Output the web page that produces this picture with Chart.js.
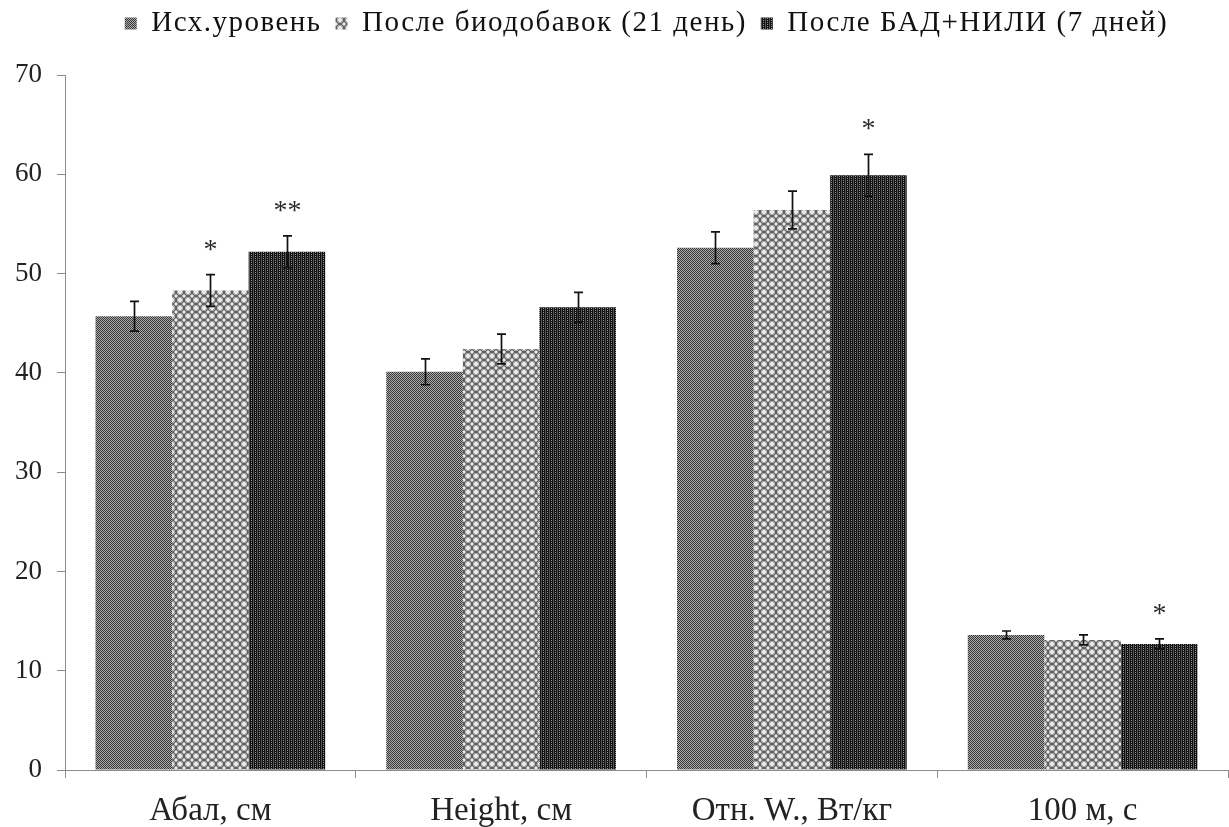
<!DOCTYPE html>
<html>
<head>
<meta charset="utf-8">
<script src="https://cdn.jsdelivr.net/npm/chart.js@4/dist/chart.umd.min.js"></script>
<style>
  html, body { margin: 0; padding: 0; background: #fff; }
  #wrap { width: 1229px; height: 827px; }
</style>
</head>
<body>
<div id="wrap"><canvas id="chart" width="1229" height="827"></canvas></div>
<script>
// Indicators measured before and after the course
const categories = ['Абал, см', 'Height, см', 'Отн. W., Вт/кг', '100 м, с'];
const seriesNames = ['Исх.уровень', 'После биодобавок (21 день)', 'После БАД+НИЛИ (7 дней)'];

// Mean values per indicator
const baselineValues    = [45.7, 40.1, 52.6, 13.6];
const supplementValues  = [48.3, 42.4, 56.4, 13.1];
const combinedValues    = [52.2, 46.6, 59.9, 12.7];

// Standard errors (±)
const baselineErrors    = [1.5, 1.3, 1.6, 0.4];
const supplementErrors  = [1.6, 1.5, 1.9, 0.5];
const combinedErrors    = [1.6, 1.5, 2.1, 0.5];

// Significance marks above the bars
const baselineMarks     = ['', '', '', ''];
const supplementMarks   = ['*', '', '', ''];
const combinedMarks     = ['**', '', '*', '*'];

// Y axis range
const yMin = 0, yMax = 70, yStep = 10;

const FONT = '"Liberation Serif", "Times New Roman", serif';
const LEGEND_SPACING = '1.5px';
const ctx = document.getElementById('chart').getContext('2d');

// Build a repeating fill from a small character map
function tilePattern(rows, palette) {
  const h = rows.length, w = rows[0].length;
  const c = document.createElement('canvas');
  c.width = w; c.height = h;
  const g = c.getContext('2d');
  for (let y = 0; y < h; y++) {
    for (let x = 0; x < w; x++) {
      g.fillStyle = palette[rows[y][x]];
      g.fillRect(x, y, 1, 1);
    }
  }
  return ctx.createPattern(c, 'repeat');
}

// Fine mid-grey checker
const fillBaseline = tilePattern(
  ['#.', '.#'],
  { '#': '#383838', '.': '#ababab' }
);
// Grey with small rings and crosses
const fillSupplement = tilePattern(
  [
    '+.gggg.+',
    '.g....g.',
    'g..++..g',
    'g.++++.g',
    'g.++++.g',
    'g..++..g',
    '.g....g.',
    '+.gggg.+'
  ],
  { '.': '#adadad', 'g': '#606060', '+': '#eaeaea' }
);
// Dark with vertical stripes
const fillCombined = tilePattern(
  ['#d#.', '#d##', '#d#.', '#d##'],
  { '#': '#111111', 'd': '#555555', '.': '#9a9a9a' }
);

// Error bars and significance marks drawn on top of the bars
const errorBars = {
  id: 'errorBars',
  afterDatasetsDraw(chart) {
    const c = chart.ctx;
    const y = chart.scales.y;
    chart.data.datasets.forEach((ds, i) => {
      const meta = chart.getDatasetMeta(i);
      meta.data.forEach((bar, j) => {
        const v = ds.data[j], e = ds.errors[j];
        const yt = y.getPixelForValue(v + e);
        const yb = y.getPixelForValue(v - e);
        const x = Math.round(bar.x) + 0.5;
        c.save();
        c.strokeStyle = '#111';
        c.lineWidth = 1.7;
        c.beginPath();
        c.moveTo(x, yt); c.lineTo(x, yb);
        c.moveTo(x - 4.5, yt); c.lineTo(x + 4.5, yt);
        c.moveTo(x - 4.5, yb); c.lineTo(x + 4.5, yb);
        c.stroke();
        const m = ds.marks[j];
        if (m) {
          c.font = '28px ' + FONT;
          c.fillStyle = '#2a2a2a';
          c.textAlign = 'center';
          c.textBaseline = 'alphabetic';
          c.fillText(m, x, yt - 17);
        }
        c.restore();
      });
    });
  }
};

// Legend: fixed block height and slightly widened lettering
const legendTweaks = {
  id: 'legendTweaks',
  beforeInit(chart) {
    const legend = chart.legend;
    const fit = legend.fit;
    const draw = legend.draw;
    legend.fit = function () {
      this.ctx.save();
      this.ctx.letterSpacing = LEGEND_SPACING;
      fit.call(this);
      this.ctx.restore();
      this.height = 80;
    };
    legend.draw = function () {
      this.ctx.save();
      this.ctx.letterSpacing = LEGEND_SPACING;
      draw.apply(this, arguments);
      this.ctx.restore();
    };
  }
};

new Chart(ctx, {
  type: 'bar',
  data: {
    labels: categories,
    datasets: [
      { label: seriesNames[0], data: baselineValues,   errors: baselineErrors,   marks: baselineMarks,   backgroundColor: fillBaseline },
      { label: seriesNames[1], data: supplementValues, errors: supplementErrors, marks: supplementMarks, backgroundColor: fillSupplement },
      { label: seriesNames[2], data: combinedValues,   errors: combinedErrors,   marks: combinedMarks,   backgroundColor: fillCombined }
    ]
  },
  options: {
    responsive: false,
    animation: false,
    layout: { padding: { left: 0, right: 1, top: -5, bottom: 0 } },
    datasets: { bar: { categoryPercentage: 0.79, barPercentage: 1.0, borderWidth: 0 } },
    plugins: {
      tooltip: { enabled: false },
      legend: {
        position: 'top',
        fullSize: false,
        labels: {
          font: { family: FONT, size: 29 },
          color: '#111',
          boxWidth: 12,
          boxHeight: 12,
          padding: 14
        }
      }
    },
    scales: {
      x: {
        grid: { display: true, drawOnChartArea: false, offset: true, tickLength: 8, color: '#8c8c8c' },
        border: { color: '#8c8c8c' },
        ticks: { font: { family: FONT, size: 33 }, color: '#222', padding: 14 },
        afterFit(s) { s.height = 57; }
      },
      y: {
        min: yMin, max: yMax,
        ticks: { stepSize: yStep, font: { family: FONT, size: 27 }, color: '#222', padding: 15 },
        grid: { display: true, drawOnChartArea: false, tickLength: 8, color: '#8c8c8c' },
        border: { color: '#8c8c8c' },
        afterFit(s) { s.width = 65; }
      }
    }
  },
  plugins: [legendTweaks, errorBars]
});
</script>
</body>
</html>
